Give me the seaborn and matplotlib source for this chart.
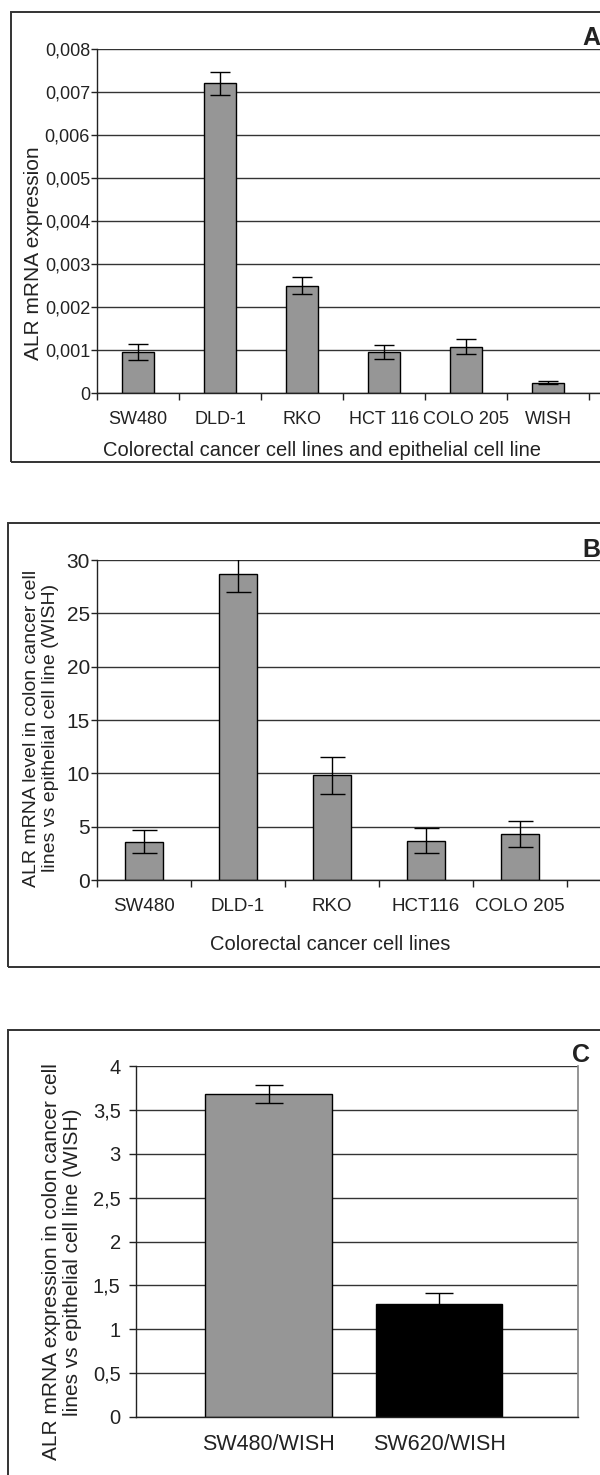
import numpy as np
import seaborn as sns
import matplotlib.pyplot as plt
from matplotlib.patches import Rectangle
from matplotlib.ticker import FixedLocator

# Panel A - ALR mRNA expression, cancer lines + WISH
cells_a = ["SW480", "DLD-1", "RKO", "HCT 116", "COLO 205", "WISH"]
expr_a = [0.00095, 0.0072, 0.0025, 0.00095, 0.00108, 0.00024]
err_a = [0.00018, 0.00026, 0.0002, 0.00017, 0.00017, 0.00003]

# Panel B - level relative to WISH
cells_b = ["SW480", "DLD-1", "RKO", "HCT116", "COLO 205"]
ratio_b = [3.6, 28.7, 9.8, 3.7, 4.3]
err_b = [1.1, 1.7, 1.7, 1.2, 1.2]

# Panel C - SW480 vs SW620
pairs_c = ["SW480/WISH", "SW620/WISH"]
ratio_c = [3.68, 1.29]
err_c = [0.1, 0.12]
colors_c = ["#969696", "#000000"]

sns.set_theme(style="white")
plt.rcParams["font.family"] = ["Liberation Sans", "DejaVu Sans"]

W, H = 600, 1475
TXT = "#222222"
fig = plt.figure(figsize=(W / 100, H / 100), dpi=100)


def rect(x0, y0, x1, y1):
    # pixel box, origin top-left -> figure fraction
    return [x0 / W, 1 - y1 / H, (x1 - x0) / W, (y1 - y0) / H]


def frame(x0, y0, x1, y1):
    fig.add_artist(Rectangle((x0 / W, 1 - y1 / H), (x1 - x0) / W, (y1 - y0) / H,
                             transform=fig.transFigure, fill=False, lw=1.4, ec="#333333"))


def ftext(x, y, s, **kw):
    fig.text(x / W, 1 - y / H, s, color=TXT, **kw)


def excel_style(ax, ticks, labels, fs, ylen=4, ypad=1):
    ax.set_ylim(ticks[0], ticks[-1])
    ax.set_yticks(ticks)
    ax.set_yticklabels(labels, fontsize=fs, color=TXT)
    ax.yaxis.grid(True, color="#333333", lw=1)
    ax.set_axisbelow(True)
    ax.spines["top"].set_visible(False)
    ax.spines["right"].set_visible(False)
    for s in ["left", "bottom"]:
        ax.spines[s].set_color("#222222")
        ax.spines[s].set_linewidth(1)
    ax.tick_params(axis="y", left=True, length=ylen, width=1, color="#222222",
                   direction="out", pad=ypad)
    ax.set_xlabel("")
    ax.set_ylabel("")


def bars(ax, cats, vals, errs, cap, width, **kw):
    sns.barplot(x=cats, y=vals, ax=ax, width=width, saturation=1,
                edgecolor="black", linewidth=1, errorbar=None, **kw)
    ax.errorbar(range(len(cats)), vals, yerr=errs, fmt="none", ecolor="black",
                elinewidth=1, capsize=cap, capthick=1, zorder=5)


# ---------- A ----------
frame(11, 12, 700, 462)
axa = fig.add_axes(rect(97, 49, 620, 393))
bars(axa, cells_a, expr_a, err_a, 7, 0.4, color="#969696")
ya = np.round(np.arange(0, 0.0081, 0.001), 3)
excel_style(axa, ya, ["0" if v == 0 else f"{v:.3f}".replace(".", ",") for v in ya], 13)
axa.set_xlim(-0.5, 5.5 + 31 / 82)
axa.xaxis.set_minor_locator(FixedLocator(np.arange(-0.5, 6)))
axa.tick_params(axis="x", which="major", length=0, pad=13, labelsize=13, labelcolor=TXT)
axa.tick_params(axis="x", which="minor", bottom=True, length=5, width=1,
                color="#222222", direction="out")
ftext(322, 450, "Colorectal cancer cell lines and epithelial cell line",
      fontsize=14.5, ha="center", va="center")
ftext(34, 253, "ALR mRNA expression", fontsize=15, rotation=90,
      ha="center", va="center")
ftext(582, 45, "A", fontsize=18, fontweight="bold", ha="left", va="baseline")

# ---------- B ----------
frame(8, 523, 700, 967)
axb = fig.add_axes(rect(97, 560, 620, 880))
bars(axb, cells_b, ratio_b, err_b, 9, 0.41, color="#969696")
yb = np.arange(0, 31, 5)
excel_style(axb, yb, [str(v) for v in yb], 15)
axb.set_xlim(-0.5, 4.5 + 53 / 94)
axb.xaxis.set_minor_locator(FixedLocator(np.arange(-0.5, 5)))
axb.tick_params(axis="x", which="major", length=0, pad=13, labelsize=13.5, labelcolor=TXT)
axb.tick_params(axis="x", which="minor", bottom=True, length=5, width=1,
                color="#222222", direction="out")
ftext(330, 945, "Colorectal cancer cell lines", fontsize=14.5, ha="center", va="center")
ftext(41, 728, "ALR mRNA level in colon cancer cell\nlines vs epithelial cell line (WISH)",
      fontsize=14, rotation=90, ha="center", va="center", multialignment="center",
      linespacing=1.15)
ftext(582, 557, "B", fontsize=18, fontweight="bold", ha="left", va="baseline")

# ---------- C ----------
frame(8, 1030, 700, 1600)
axc = fig.add_axes(rect(136, 1066, 578, 1417))
bars(axc, pairs_c, ratio_c, err_c, 10, 0.74, hue=pairs_c, palette=colors_c, legend=False)
yc = np.arange(0, 4.01, 0.5)
excel_style(axc, yc, [f"{v:g}".replace(".", ",") for v in yc], 14.5, ylen=5, ypad=6)
axc.set_xlim(-0.777, 1.814)
axc.spines["right"].set_visible(True)
axc.spines["right"].set_color("#888888")
axc.tick_params(axis="x", which="major", length=0, pad=12, labelsize=15.5, labelcolor=TXT)
ftext(62, 1262, "ALR mRNA expression in colon cancer cell\nlines vs epithelial cell line (WISH)",
      fontsize=15, rotation=90, ha="center", va="center", multialignment="center",
      linespacing=1.1)
ftext(572, 1062, "C", fontsize=18, fontweight="bold", ha="left", va="baseline")

fig.savefig("out.png", dpi=100)
